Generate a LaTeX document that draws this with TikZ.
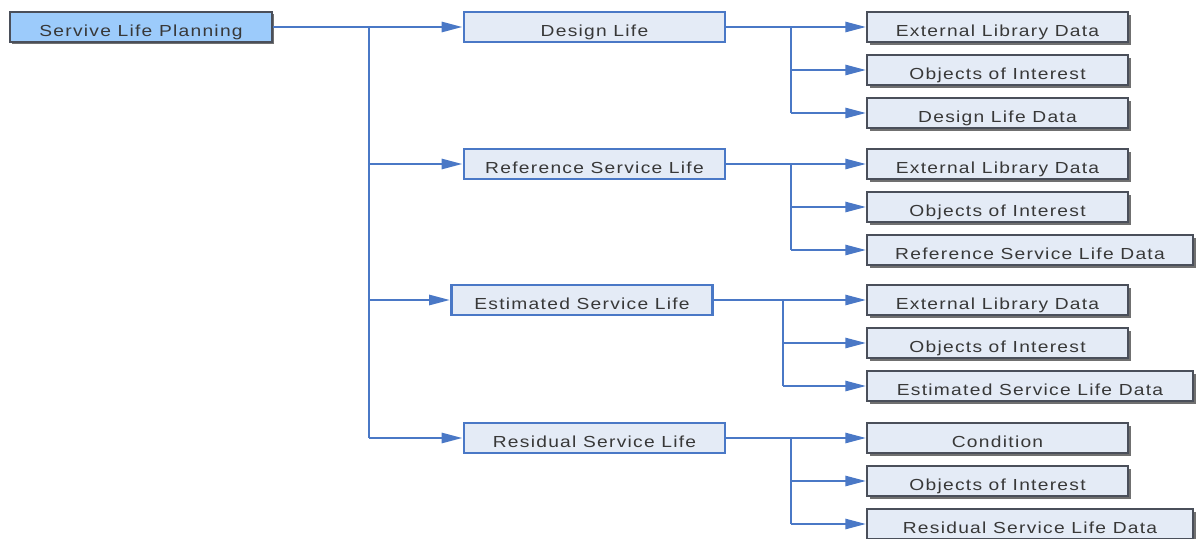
\documentclass[tikz,border=0pt]{standalone}
\usepackage{fontspec}
\newfontfamily\lblfont[LetterSpace=8,FakeStretch=1.2]{Liberation Sans}
\usetikzlibrary{arrows.meta,shadows}
\definecolor{linkblue}{HTML}{4A78C6}
\definecolor{midfill}{HTML}{E4EBF6}
\definecolor{rootfill}{HTML}{9CCBFB}
\definecolor{textgray}{HTML}{383838}
\definecolor{edgegray}{HTML}{4A4F5A}
\newcommand{\lowered}[1]{\raisebox{-4pt}{#1}}
\begin{document}
\begin{tikzpicture}[x=1pt,y=-1pt,
  every node/.style={font=\lblfont\fontsize{16}{16}\selectfont, text=textgray,
    inner sep=0pt, minimum height=30pt, text height=11pt, text depth=0pt},
  rootbox/.style={draw=edgegray, line width=1.6pt, fill=rootfill, minimum width=262pt,
    drop shadow={shadow xshift=2pt, shadow yshift=-2pt, fill=black!70, opacity=0.8}},
  midbox/.style={draw=linkblue, line width=2.8pt, fill=midfill, minimum width=261pt},
  leafbox/.style={draw=edgegray, line width=1.5pt, fill=midfill, minimum width=261pt,
    drop shadow={shadow xshift=2.5pt, shadow yshift=-2.5pt, fill=black!70, opacity=0.8}},
  wideleaf/.style={leafbox, minimum width=326pt},
  link/.style={draw=linkblue, line width=2.8pt},
  tolink/.style={link, -{Triangle[length=21pt,width=10pt]}}
]
\useasboundingbox (0,0) rectangle (1196,538);

% root and second level
\node[rootbox] (root) at (141,27) {\lowered{Servive Life Planning}};
\node[midbox] (dl)  at (594.5,27)  {\lowered{Design Life}};
\node[midbox] (rsl) at (594.5,164) {\lowered{Reference Service Life}};
\node[midbox] (esl) at (582,300)   {\lowered{Estimated Service Life}};
\node[midbox] (res) at (594.5,438) {\lowered{Residual Service Life}};

% leaves: design life
\node[leafbox]  (dl1) at (997.5,27)  {\lowered{External Library Data}};
\node[leafbox]  (dl2) at (997.5,70)  {\lowered{Objects of Interest}};
\node[leafbox]  (dl3) at (997.5,113) {\lowered{Design Life Data}};
% leaves: reference service life
\node[leafbox]  (rs1) at (997.5,164) {\lowered{External Library Data}};
\node[leafbox]  (rs2) at (997.5,207) {\lowered{Objects of Interest}};
\node[wideleaf] (rs3) at (1030,250)  {\lowered{Reference Service Life Data}};
% leaves: estimated service life
\node[leafbox]  (es1) at (997.5,300) {\lowered{External Library Data}};
\node[leafbox]  (es2) at (997.5,343) {\lowered{Objects of Interest}};
\node[wideleaf] (es3) at (1030,386)  {\lowered{Estimated Service Life Data}};
% leaves: residual service life
\node[leafbox]  (re1) at (997.5,438) {\lowered{Condition}};
\node[leafbox]  (re2) at (997.5,481) {\lowered{Objects of Interest}};
\node[wideleaf] (re3) at (1030,524)  {\lowered{Residual Service Life Data}};

% main trunk
\coordinate (t0) at (369,27);
\draw[link] (t0) -- (369,438);
\draw[tolink] (root.east) -- (dl.west);
\draw[tolink] (369,164) -- (rsl.west);
\draw[tolink] (369,300) -- (esl.west);
\draw[tolink] (369,438) -- (res.west);

% design life branch
\draw[tolink] (dl.east) -- (dl1.west);
\draw[link] (791,27) -- (791,113);
\draw[tolink] (791,70) -- (dl2.west);
\draw[tolink] (791,113) -- (dl3.west);

% reference service life branch
\draw[tolink] (rsl.east) -- (rs1.west);
\draw[link] (791,164) -- (791,250);
\draw[tolink] (791,207) -- (rs2.west);
\draw[tolink] (791,250) -- (rs3.west);

% estimated service life branch
\draw[tolink] (esl.east) -- (es1.west);
\draw[link] (783,300) -- (783,386);
\draw[tolink] (783,343) -- (es2.west);
\draw[tolink] (783,386) -- (es3.west);

% residual service life branch
\draw[tolink] (res.east) -- (re1.west);
\draw[link] (791,438) -- (791,524);
\draw[tolink] (791,481) -- (re2.west);
\draw[tolink] (791,524) -- (re3.west);
\end{tikzpicture}
\end{document}
